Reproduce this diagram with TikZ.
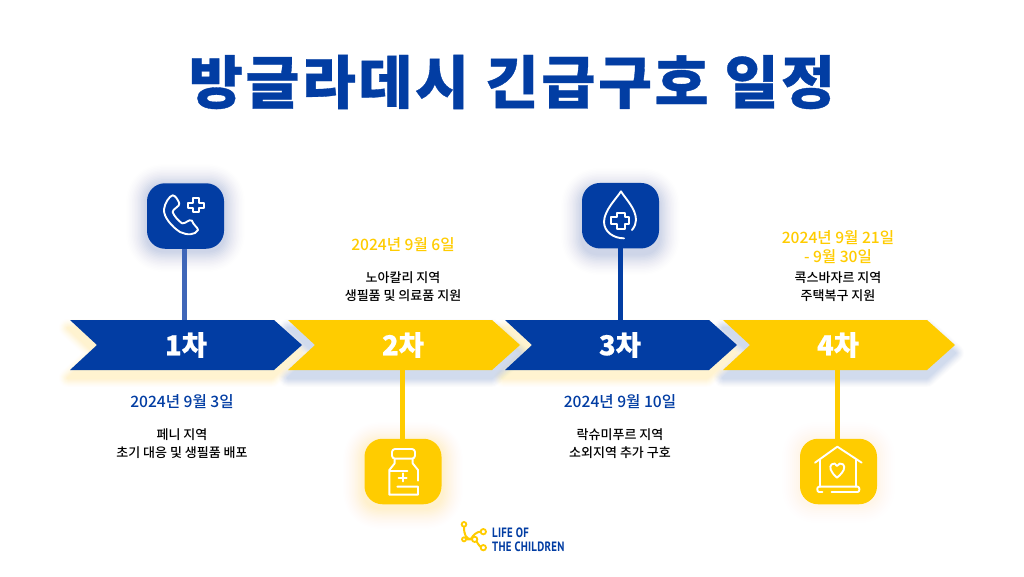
\documentclass[tikz,border=0pt]{standalone}
\usepackage{fontspec}
\setmainfont{Noto Sans CJK KR Medium}
\newfontfamily\titlefont{Noto Sans CJK KR Black}[LetterSpace=4.5,FakeBold=0.6,FakeStretch=1.02]
\newfontfamily\stepfont{Noto Sans CJK KR Black}[FakeBold=0.6]
\newfontfamily\logofont{PT Sans Bold}[FakeStretch=.8,LetterSpace=2]
\definecolor{navy}{HTML}{023DA3}
\definecolor{gold}{HTML}{FFCC00}
\definecolor{stemblue}{HTML}{3F66B8}
\tikzset{
 x=1pt,y=-1pt,
 iconbox/.style={rounded corners=18pt,minimum width=77pt,minimum height=65.5pt,inner sep=0,outer sep=0},
 glyph/.style={draw=white,line width=1.9pt,line cap=round,line join=round},
 stem/.style={line width=5pt},
 datelabel/.style={font=\fontsize{15.6}{18}\selectfont,inner sep=0},
 infolabel/.style={font=\fontsize{13}{15}\selectfont,inner sep=0,text=black},
 steplabel/.style={font=\stepfont\fontsize{27.5}{32}\selectfont,text=white,inner sep=0},
 logotext/.style={font=\logofont\fontsize{13.5}{14}\selectfont,text=navy,inner sep=0,anchor=west},
}
\newcommand{\softglow}[4]{% colour, shift, widths/opacities, path
 \foreach \w/\o in #3 {
  \begin{scope}[transparency group,opacity=\o,shift={#2}]
   \draw[#1,fill=#1,line width=\w pt,line join=round] #4;
  \end{scope}}}
\def\barglow{18/.012,16/.015,14/.018,12/.02,10/.022,8/.024,6/.024,4/.024,2/.024}
\def\boxglow{42/.005,39/.006,36/.007,33/.008,30/.01,27/.012,24/.013,21/.015,18/.016,15/.018,12/.02,9/.02,6/.02,3/.02}
\def\faintglow{36/.004,32/.005,28/.006,24/.007,20/.008,16/.01,12/.012,8/.012,4/.014}
\begin{document}
\begin{tikzpicture}
\useasboundingbox (0,0) rectangle (1024,576);
\fill[white] (0,0) rectangle (1024,576);
\node[font=\titlefont\fontsize{57.5}{60}\selectfont,text=navy,inner sep=0] (title) at (512,82) {방글라데시 긴급구호 일정};

% shadows of the arrows
\softglow{gold}{(-2,8)}{\barglow}{(70,320)--(274,320)--(302,345)--(274,370)--(70,370)--(97,345)--cycle}
\softglow{navy}{(0,8)}{\barglow}{(288,320)--(492,320)--(520,345)--(492,370)--(288,370)--(315,345)--cycle}
\softglow{gold}{(-2,8)}{\barglow}{(505,320)--(709,320)--(737,345)--(709,370)--(505,370)--(532,345)--cycle}
\softglow{navy}{(0,8)}{\barglow}{(723,320)--(927,320)--(955,345)--(927,370)--(723,370)--(750,345)--cycle}

% shadows of the icon boxes
\softglow{navy}{(0,2)}{\boxglow}{(165,183)--(206,183)..controls(218,183)and(224,189)..(224,201)--(224,231)..controls(224,243)and(218,249)..(206,249)--(165,249)..controls(153,249)and(147,243)..(147,231)--(147,201)..controls(147,189)and(153,183)..(165,183)--cycle}
\softglow{navy}{(0,6)}{\boxglow}{(600,183)--(641,183)..controls(653,183)and(659,189)..(659,201)--(659,230)..controls(659,242)and(653,248)..(641,248)--(600,248)..controls(588,248)and(582,242)..(582,230)--(582,201)..controls(582,189)and(588,183)..(600,183)--cycle}
\softglow{gold}{(0,4)}{\boxglow}{(382,439)--(424,439)..controls(436,439)and(442,445)..(442,457)--(442,486)..controls(442,498)and(436,504)..(424,504)--(382,504)..controls(370,504)and(364,498)..(364,486)--(364,457)..controls(364,445)and(370,439)..(382,439)--cycle}
\softglow{gold}{(0,1)}{\faintglow}{(818,439)--(859,439)..controls(871,439)and(877,445)..(877,457)--(877,486)..controls(877,498)and(871,504)..(859,504)--(818,504)..controls(806,504)and(800,498)..(800,486)--(800,457)..controls(800,445)and(806,439)..(818,439)--cycle}

% icon boxes
\node[iconbox,fill=navy] (box1) at (185.5,216) {};
\node[iconbox,fill=navy] (box3) at (620.5,215.7) {};
\node[iconbox,fill=gold] (box2) at (403,471.5) {};
\node[iconbox,fill=gold] (box4) at (838.5,471.5) {};

% chevrons
\fill[navy] (70,320)--(274,320)--(302,345)--(274,370)--(70,370)--(97,345)--cycle;
\fill[gold] (288,320)--(492,320)--(520,345)--(492,370)--(288,370)--(315,345)--cycle;
\fill[navy] (505,320)--(709,320)--(737,345)--(709,370)--(505,370)--(532,345)--cycle;
\fill[gold] (723,320)--(927,320)--(955,345)--(927,370)--(723,370)--(750,345)--cycle;
\coordinate (top1) at (184,320);
\coordinate (bot2) at (402,370);
\coordinate (top3) at (620,320);
\coordinate (bot4) at (837,370);

% stems
\draw[stem,stemblue] (box1.south -| top1) -- (top1);
\draw[stem,gold] (bot2) -- (bot2 |- box2.north);
\draw[stem,navy] (box3.south -| top3) -- (top3);
\draw[stem,gold] (bot4) -- (bot4 |- box4.north);

% step labels
\node[steplabel] (s1) at (186,345) {1차};
\node[steplabel] (s2) at (403,345) {2차};
\node[steplabel] (s3) at (620,345) {3차};
\node[steplabel] (s4) at (838,345) {4차};

% dates and details
\node[datelabel,text=navy] (d1) at (182,402) {2024년 9월 3일};
\node[infolabel] (i1a) at (182,435) {페니 지역};
\node[infolabel] (i1b) at (182,453) {초기 대응 및 생필품 배포};
\node[datelabel,text=gold] (d2) at (403,245) {2024년 9월 6일};
\node[infolabel] (i2a) at (403,278) {노아칼리 지역};
\node[infolabel] (i2b) at (403,296) {생필품 및 의료품 지원};
\node[datelabel,text=navy] (d3) at (620,402) {2024년 9월 10일};
\node[infolabel] (i3a) at (620,435) {락슈미푸르 지역};
\node[infolabel] (i3b) at (620,453) {소외지역 추가 구호};
\node[datelabel,text=gold] (d4a) at (838,238) {2024년 9월 21일};
\node[datelabel,text=gold] (d4b) at (838,257) {- 9월 30일};
\node[infolabel] (i4a) at (838,278) {콕스바자르 지역};
\node[infolabel] (i4b) at (838,296) {주택복구 지원};

% phone icon
\begin{scope}[shift={(130,170)},x=.3333pt,y=-.3333pt]
 \draw[glyph] (128,76) .. controls (118,78) and (104,100) .. (102,118) .. controls (100,140) and (125,170) .. (150,186) .. controls (170,196) and (196,196) .. (204,180) .. controls (204,172) and (190,166) .. (186,152) .. controls (176,146) and (168,162) .. (156,160) .. controls (145,152) and (132,138) .. (128,126) .. controls (128,116) and (150,110) .. (148,100) .. controls (144,90) and (136,76) .. (128,76) -- cycle;
 \draw[glyph] (190,84)--(206,84)--(206,98)--(222,98)--(222,114)--(206,114)--(206,126)--(190,126)--(190,114)--(174,114)--(174,98)--(190,98)--cycle;
\end{scope}
% drop icon
\begin{scope}[shift={(570,170)},x=.3333pt,y=-.3333pt]
 \draw[glyph] (186,180) .. controls (194,170) and (198,160) .. (198,150) .. controls (198,115) and (165,85) .. (153,64) .. controls (140,85) and (103,120) .. (102,155) .. controls (102,185) and (130,205) .. (162,205);
 \draw[glyph] (142,128)--(164,128)--(164,142)--(178,142)--(178,162)--(164,162)--(164,176)--(142,176)--(142,162)--(124,162)--(124,142)--(142,142)--cycle;
\end{scope}
% bottle icon
\begin{scope}[shift={(350,430)},x=.3333pt,y=-.3333pt]
 \draw[glyph,rounded corners=3pt] (126,57) rectangle (195,86);
 \draw[glyph] (134,88)--(134,100)--(118,120)--(118,194)--(204,194)--(204,170)--(142,170);
 \draw[glyph] (188,88)--(188,100)--(204,120)--(204,152);
 \draw[glyph] (120,122)--(172,122);
 \draw[glyph] (158,130)--(158,154) (146,143)--(170,143);
\end{scope}
% house icon
\begin{scope}[shift={(785,430)},x=.3333pt,y=-.3333pt]
 \draw[glyph] (90,98)--(157,50)--(230,98);
 \draw[glyph] (106,90)--(106,170) (214,90)--(214,170);
 \draw[glyph] (112,186)--(102,186) .. controls (95,186) and (95,170) .. (102,170) -- (218,170) .. controls (225,170) and (225,186) .. (218,186) -- (140,186);
 \draw[glyph] (156,143) .. controls (135,125) and (132,110) .. (140,103) .. controls (146,98) and (153,100) .. (156,108) .. controls (160,100) and (168,98) .. (174,103) .. controls (182,110) and (178,125) .. (156,143) -- cycle;
\end{scope}
% logo
\begin{scope}[shift={(440,510)},x=.3333pt,y=-.3333pt]
 \draw[gold,line width=2pt,line cap=round] (72,50) .. controls (72,75) and (78,85) .. (92,88) (92,88) .. controls (100,75) and (110,65) .. (122,65) (72,88) -- (105,88) .. controls (112,95) and (115,108) .. (125,112);
 \draw[gold,line width=1.8pt,fill=white] (72,43) circle (7) (130,65) circle (8) (104,88) circle (8) (72,88) circle (6) (130,113) circle (8);
\end{scope}
\node[logotext] (logo1) at (492,533) {LIFE OF};
\node[logotext] (logo2) at (492,547) {THE CHILDREN};
\end{tikzpicture}
\end{document}
